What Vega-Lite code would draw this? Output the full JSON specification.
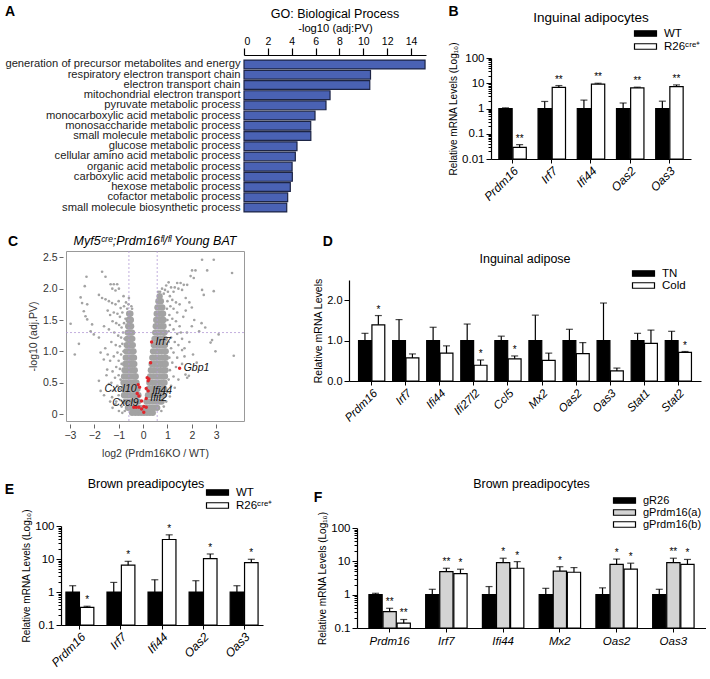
{
  "$schema": "https://vega.github.io/schema/vega-lite/v6.json",
  "padding": {"left": 3, "top": 3, "right": 0, "bottom": 0},
  "background": "white",
  "config": {
    "font": "Liberation Sans",
    "view": {"stroke": null},
    "axis": {"domainColor": "#000", "tickColor": "#000", "labelColor": "#000", "titleColor": "#000", "titleFontWeight": "normal", "grid": false, "labelFont": "Liberation Sans", "titleFont": "Liberation Sans", "labelOverlap": false},
    "title": {"fontWeight": "normal", "font": "Liberation Sans", "color": "#000"},
    "legend": {"labelFont": "Liberation Sans", "labelColor": "#000"}
  },
  "columns": 1,
  "spacing": 16,
  "resolve": {"scale": {"color": "independent", "xOffset": "independent", "x": "independent", "y": "independent"}, "legend": {"color": "independent"}},
  "concat": [
    {
      "columns": 4,
      "spacing": 0,
      "resolve": {"scale": {"color": "independent", "xOffset": "independent", "x": "independent", "y": "independent"}, "legend": {"color": "independent"}},
      "concat": [
        {"width": 1, "height": 1, "view": {"fill": "#ffffff", "stroke": null}, "data": {"values": []}, "mark": "point"},
        {
          "spacing": 0,
          "vconcat": [
            {"width": 1, "height": 1, "view": {"fill": "#ffffff", "stroke": null}, "data": {"values": []}, "mark": "point"},
            {
              "title": {"text": "A", "anchor": "start", "frame": "bounds", "fontSize": 14, "fontWeight": "bold", "offset": -11},
              "vconcat": [
                {
                  "width": 182,
                  "height": 162,
                  "title": {"text": "GO: Biological Process", "fontSize": 12.5, "offset": 2, "frame": "group"},
                  "data": {"values": [
                    {"term": "generation of precursor metabolites and energy", "value": 15.17},
                    {"term": "respiratory electron transport chain", "value": 10.6},
                    {"term": "electron transport chain", "value": 10.54},
                    {"term": "mitochondrial electron transport", "value": 7.21},
                    {"term": "pyruvate metabolic process", "value": 6.87},
                    {"term": "monocarboxylic acid metabolic process", "value": 5.95},
                    {"term": "monosaccharide metabolic process", "value": 5.59},
                    {"term": "small molecule metabolic process", "value": 5.6},
                    {"term": "glucose metabolic process", "value": 4.44},
                    {"term": "cellular amino acid metabolic process", "value": 4.3},
                    {"term": "organic acid metabolic process", "value": 4.03},
                    {"term": "carboxylic acid metabolic process", "value": 4.05},
                    {"term": "hexose metabolic process", "value": 3.88},
                    {"term": "cofactor metabolic process", "value": 3.66},
                    {"term": "small molecule biosynthetic process", "value": 3.58}
                  ]},
                  "mark": {"type": "bar", "fill": "#4a62b4", "stroke": "#1d2545", "strokeWidth": 1.2},
                  "encoding": {
                    "y": {"field": "term", "type": "nominal", "sort": null, "scale": {"paddingInner": 0.14, "paddingOuter": 0.5}, "axis": {"title": null, "ticks": false, "domain": false, "labelFontSize": 11.2, "labelPadding": 4, "labelLimit": 400, "labelColor": "#222"}},
                    "x": {"field": "value", "type": "quantitative", "scale": {"domain": [0, 15.25], "nice": false}, "axis": {"orient": "top", "title": "-log10 (adj:PV)", "titleFontSize": 11.2, "titlePadding": 3, "values": [0, 2, 4, 6, 8, 10, 12, 14], "labelFontSize": 10.5, "tickSize": 7, "domainWidth": 1.2, "tickWidth": 1.2, "labelPadding": 2}}
                  }
                }
              ]
            }
          ]
        },
        {"width": 22, "height": 1, "view": {"fill": "#ffffff", "stroke": null}, "data": {"values": []}, "mark": "point"},
        {
          "spacing": 0,
          "resolve": {"scale": {"color": "independent", "xOffset": "independent"}, "legend": {"color": "independent"}},
          "vconcat": [
            {"width": 1, "height": 1, "view": {"fill": "#ffffff", "stroke": null}, "data": {"values": []}, "mark": "point"},
            {
              "title": {"text": "B", "anchor": "start", "frame": "bounds", "fontSize": 14, "fontWeight": "bold", "offset": -8},
              "resolve": {"scale": {"color": "independent", "xOffset": "independent"}, "legend": {"color": "independent"}},
              "vconcat": [
                {
                  "width": 200,
                  "height": 101,
                  "title": {"text": "Inguinal adipocytes", "fontSize": 13.5, "offset": 3},
                  "data": {"values": [
                    {"gene": "Prdm16", "grp": "WT", "mean": 1, "upper": 1.06, "star": ""},
                    {"gene": "Prdm16", "grp": "R26ᶜʳᵉ⁺", "mean": 0.029, "upper": 0.037, "star": "**"},
                    {"gene": "Irf7", "grp": "WT", "mean": 1, "upper": 1.9, "star": ""},
                    {"gene": "Irf7", "grp": "R26ᶜʳᵉ⁺", "mean": 6.9, "upper": 8.1, "star": "**"},
                    {"gene": "Ifi44", "grp": "WT", "mean": 1, "upper": 2.15, "star": ""},
                    {"gene": "Ifi44", "grp": "R26ᶜʳᵉ⁺", "mean": 9.3, "upper": 10, "star": "**"},
                    {"gene": "Oas2", "grp": "WT", "mean": 1, "upper": 1.65, "star": ""},
                    {"gene": "Oas2", "grp": "R26ᶜʳᵉ⁺", "mean": 6.6, "upper": 7.0, "star": "**"},
                    {"gene": "Oas3", "grp": "WT", "mean": 1, "upper": 1.95, "star": ""},
                    {"gene": "Oas3", "grp": "R26ᶜʳᵉ⁺", "mean": 7.3, "upper": 8.6, "star": "**"}
                  ]},
                  "encoding": {
                    "x": {"field": "gene", "type": "nominal", "sort": null, "scale": {"paddingInner": 0.3, "paddingOuter": 0.2}, "axis": {"title": null, "labelAngle": -45, "labelAlign": "right", "labelBaseline": "top", "labelFontStyle": "italic", "labelFontSize": 12, "tickSize": 4, "labelPadding": 2, "domainWidth": 1.2}},
                    "xOffset": {"field": "grp", "type": "nominal", "sort": null, "scale": {"paddingInner": 0.06}}
                  },
                  "layer": [
                    {
                      "mark": {"type": "bar", "stroke": "#000", "strokeWidth": 1.2},
                      "encoding": {
                        "y": {"field": "mean", "type": "quantitative", "scale": {"type": "log", "domain": [0.01, 100], "nice": false}, "axis": {"title": "Relative mRNA Levels (Log₁₀)", "titleFontSize": 10, "titlePadding": 3, "values": [0.01,0.02,0.03,0.04,0.05,0.06,0.07,0.08,0.09,0.1,0.2,0.3,0.4,0.5,0.6,0.7,0.8,0.9,1,2,3,4,5,6,7,8,9,10,20,30,40,50,60,70,80,90,100], "labelExpr": "abs(log(datum.value)/LN10 - round(log(datum.value)/LN10)) < 0.01 ? format(datum.value, '~g') : ''", "labelFontSize": 11.5, "tickSize": {"condition": {"test": "abs(log(datum.value)/LN10 - round(log(datum.value)/LN10)) < 0.01", "value": 5}, "value": 3}, "domainWidth": 1.2}},
                        "y2": {"datum": 0.01},
                        "color": {"field": "grp", "type": "nominal", "sort": null, "scale": {"range": ["#000000", "#ffffff"]}, "legend": {"title": null, "orient": "none", "legendX": 148, "legendY": -31, "symbolType": "M-2,-0.5H2V0.5H-2Z", "symbolSize": 121, "symbolStrokeColor": "#000", "symbolStrokeWidth": 1.2, "labelFontSize": 11.5, "rowPadding": 1, "labelOffset": 12}}
                      }
                    },
                    {"mark": {"type": "rule", "color": "#000", "strokeWidth": 1.2}, "encoding": {"y": {"field": "mean", "type": "quantitative"}, "y2": {"field": "upper"}}},
                    {"mark": {"type": "tick", "color": "#000", "thickness": 1.2, "size": 7}, "encoding": {"y": {"field": "upper", "type": "quantitative"}}},
                    {"mark": {"type": "text", "dy": -6, "fontSize": 10, "baseline": "middle", "color": "#000"}, "encoding": {"y": {"field": "upper", "type": "quantitative"}, "text": {"field": "star"}}}
                  ]
                }
              ]
            }
          ]
        }
      ]
    },
    {
      "columns": 4,
      "spacing": 0,
      "resolve": {"scale": {"color": "independent", "xOffset": "independent", "x": "independent", "y": "independent"}, "legend": {"color": "independent"}},
      "concat": [
        {"width": 4, "height": 1, "view": {"fill": "#ffffff", "stroke": null}, "data": {"values": []}, "mark": "point"},
        {
          "spacing": 0,
          "vconcat": [
            {"width": 1, "height": 1, "view": {"fill": "#ffffff", "stroke": null}, "data": {"values": []}, "mark": "point"},
            {
              "title": {"text": "C", "anchor": "start", "frame": "bounds", "fontSize": 14, "fontWeight": "bold", "offset": -14, "dx": -20},
              "vconcat": [
                {
                  "width": 178,
                  "height": 170,
                  "view": {"stroke": "#999999", "strokeWidth": 1},
                  "title": {"text": "Myf5ᶜʳᵉ;Prdm16ᶠˡ/ᶠˡ Young BAT", "fontSize": 12.5, "fontStyle": "italic", "offset": 3, "frame": "group"},
                  "layer": [
                    {
                      "data": {"values": "x,y\n-0.45,0.02\n-0.32,0.02\n-0.2,0.02\n-0.08,0.02\n0.04,0.02\n0.16,0.02\n0.28,0.02\n0.4,0.02\n-0.62,0.1\n-0.49,0.1\n-0.36,0.1\n-0.23,0.1\n-0.12,0.1\n-0.72,0.2\n-0.59,0.2\n-0.46,0.2\n-0.33,0.2\n-0.2,0.2\n-0.78,0.3\n-0.65,0.3\n-0.52,0.3\n-0.39,0.3\n-0.26,0.3\n-0.19,0.3\n-0.8,0.4\n-0.67,0.4\n-0.54,0.4\n-0.42,0.4\n-0.3,0.4\n-0.23,0.4\n-0.8,0.5\n-0.67,0.5\n-0.55,0.5\n-0.43,0.5\n-0.32,0.5\n-0.27,0.5\n-0.78,0.6\n-0.66,0.6\n-0.55,0.6\n-0.44,0.6\n-0.33,0.6\n-0.3,0.6\n-0.76,0.7\n-0.65,0.7\n-0.54,0.7\n-0.44,0.7\n-0.34,0.7\n-0.73,0.8\n-0.63,0.8\n-0.53,0.8\n-0.44,0.8\n-0.36,0.8\n-0.71,0.9\n-0.61,0.9\n-0.52,0.9\n-0.44,0.9\n-0.37,0.9\n-0.69,1.0\n-0.6,1.0\n-0.51,1.0\n-0.43,1.0\n-0.39,1.0\n-0.67,1.1\n-0.58,1.1\n-0.5,1.1\n-0.42,1.1\n-0.65,1.2\n-0.57,1.2\n-0.5,1.2\n-0.44,1.2\n-0.63,1.3\n-0.56,1.3\n-0.49,1.3\n-0.45,1.3\n-0.61,1.4\n-0.55,1.4\n-0.49,1.4\n-0.59,1.5\n-0.53,1.5\n-0.5,1.5\n-0.57,1.6\n-0.52,1.6\n0.08,0.1\n0.2,0.1\n0.33,0.1\n0.46,0.1\n0.58,0.1\n0.14,0.2\n0.27,0.2\n0.4,0.2\n0.53,0.2\n0.66,0.2\n0.76,0.2\n0.2,0.3\n0.33,0.3\n0.46,0.3\n0.59,0.3\n0.72,0.3\n0.84,0.3\n0.23,0.4\n0.36,0.4\n0.49,0.4\n0.62,0.4\n0.75,0.4\n0.87,0.4\n0.26,0.5\n0.39,0.5\n0.52,0.5\n0.65,0.5\n0.78,0.5\n0.88,0.5\n0.29,0.6\n0.42,0.6\n0.55,0.6\n0.68,0.6\n0.8,0.6\n0.9,0.6\n0.32,0.7\n0.45,0.7\n0.58,0.7\n0.71,0.7\n0.83,0.7\n0.92,0.7\n0.35,0.8\n0.48,0.8\n0.6,0.8\n0.73,0.8\n0.85,0.8\n0.93,0.8\n0.38,0.9\n0.5,0.9\n0.62,0.9\n0.75,0.9\n0.87,0.9\n0.93,0.9\n0.41,1.0\n0.53,1.0\n0.65,1.0\n0.77,1.0\n0.88,1.0\n0.93,1.0\n0.44,1.1\n0.56,1.1\n0.68,1.1\n0.8,1.1\n0.9,1.1\n0.47,1.2\n0.59,1.2\n0.71,1.2\n0.82,1.2\n0.89,1.2\n0.5,1.3\n0.61,1.3\n0.72,1.3\n0.83,1.3\n0.88,1.3\n0.52,1.4\n0.63,1.4\n0.74,1.4\n0.84,1.4\n0.54,1.5\n0.65,1.5\n0.76,1.5\n0.84,1.5\n0.56,1.6\n0.67,1.6\n0.78,1.6\n0.82,1.6\n0.59,1.7\n0.69,1.7\n0.79,1.7\n0.63,1.8\n0.73,1.8\n0.68,1.88", "format": {"type": "csv", "parse": {"x": "number", "y": "number"}}},
                      "mark": {"type": "circle", "size": 40, "color": "#a3a3a3", "opacity": 1},
                      "encoding": {
                        "x": {"field": "x", "type": "quantitative", "scale": {"domain": [-3.16, 4.14], "nice": false, "zero": false}, "axis": {"title": "log2 (Prdm16KO / WT)", "titleFontSize": 10.5, "titlePadding": 8, "titleColor": "#333", "values": [-3, -2, -1, 0, 1, 2, 3], "labelOverlap": false, "labelFontSize": 10.5, "labelColor": "#333", "offset": 3, "domain": false, "tickColor": "#666", "tickSize": 4}},
                        "y": {"field": "y", "type": "quantitative", "scale": {"domain": [-0.11, 2.6], "nice": false, "zero": false}, "axis": {"title": "-log10 (adj.PV)", "titleFontSize": 10.5, "titlePadding": 4, "titleColor": "#333", "values": [0, 0.5, 1, 1.5, 2, 2.5], "labelOverlap": false, "labelExpr": "datum.value == 0 ? '0' : format(datum.value, '.1f')", "labelFontSize": 10.5, "labelColor": "#333", "offset": 3, "domain": false, "tickColor": "#666", "tickSize": 4}}
                      }
                    },
                    {
                      "data": {"values": "x,y\n-1.68,2.27\n-2.32,2.19\n-1.54,2.19\n-2.39,2.04\n-1.33,2.07\n-1.2,2.07\n-1.06,2.07\n-1.26,2.0\n-1.13,1.97\n-0.99,2.0\n-2.56,1.86\n-2.5,1.77\n-2.29,1.75\n-1.81,1.9\n-1.68,1.85\n-1.54,1.83\n-1.4,1.8\n-1.27,1.77\n-1.13,1.75\n-0.92,1.69\n-2.43,1.64\n-2.36,1.56\n-2.29,1.51\n-2.97,1.44\n-2.09,1.43\n-2.63,1.12\n-2.8,0.95\n-2.15,1.32\n-2.02,1.27\n-1.81,1.22\n-1.74,0.98\n-1.61,0.87\n-1.47,0.71\n-1.81,0.53\n-1.74,0.37\n-1.4,0.48\n-1.27,0.27\n-1.13,0.16\n-0.99,0.05\n-1.45,1.65\n-1.35,1.58\n-1.2,1.62\n-1.05,1.6\n-0.95,1.55\n-0.85,1.62\n-0.78,1.72\n-0.7,1.78\n-0.65,1.68\n-1.25,1.48\n-1.1,1.45\n-0.98,1.42\n-0.88,1.38\n-0.78,1.45\n-0.72,1.52\n-1.6,1.4\n-1.4,1.35\n-1.18,1.3\n-1.02,1.25\n-0.9,1.22\n-0.82,1.3\n-0.76,1.2\n-1.3,1.15\n-1.12,1.1\n-0.95,1.08\n-0.85,1.12\n-0.8,1.0\n-0.9,0.95\n-1.05,0.98\n-1.2,0.92\n-1.35,0.85\n-1.0,0.85\n-0.88,0.8\n-0.95,0.72\n-1.1,0.75\n-1.25,0.68\n-1.0,0.62\n-0.92,0.55\n-1.15,0.58\n-1.3,0.5\n-1.05,0.45\n-0.95,0.4\n-1.2,0.38\n-1.0,0.3\n-0.92,0.22\n-1.1,0.2\n-0.88,0.12\n-0.75,0.05\n-1.55,1.05\n-1.45,0.95\n-1.5,0.62\n-1.6,0.3\n-1.35,0.2\n-1.25,0.1\n-0.85,0.02\n-0.6,1.75\n-0.58,1.85\n-0.8,1.88\n-1.0,1.8\n-0.48,1.72\n-0.45,1.68\n2.42,2.46\n2.9,2.46\n2.01,2.29\n2.15,2.29\n2.63,2.29\n3.65,2.25\n1.95,2.2\n2.08,2.17\n1.4,2.09\n1.54,2.09\n1.67,2.06\n1.81,2.06\n1.3,2.02\n1.45,2.0\n1.6,1.98\n2.49,1.9\n2.9,1.96\n2.42,1.98\n1.75,1.85\n1.9,1.78\n2.0,1.7\n2.1,1.5\n2.4,1.45\n2.55,1.38\n2.3,1.32\n2.77,1.14\n2.97,1.0\n3.72,0.93\n1.74,0.63\n1.81,0.58\n2.2,0.82\n2.05,0.95\n1.6,1.2\n1.7,1.05\n3.1,1.27\n2.83,1.18\n1.88,0.61\n0.95,2.05\n1.05,2.1\n1.15,2.02\n1.25,1.95\n1.02,1.95\n0.9,1.98\n0.85,1.92\n1.1,1.88\n1.2,1.82\n1.35,1.78\n1.5,1.75\n1.0,1.8\n1.12,1.72\n1.25,1.68\n1.4,1.62\n0.98,1.68\n1.08,1.58\n1.2,1.52\n1.35,1.48\n1.5,1.4\n1.0,1.5\n1.1,1.42\n1.25,1.35\n1.4,1.28\n1.55,1.3\n1.05,1.32\n1.15,1.22\n1.3,1.15\n1.45,1.1\n1.6,1.02\n1.05,1.15\n1.15,1.05\n1.25,0.98\n1.4,0.9\n1.08,0.9\n1.2,0.82\n1.35,0.75\n1.1,0.7\n1.25,0.6\n1.05,0.55\n1.15,0.45\n1.0,0.35\n1.1,0.28\n0.95,0.2\n0.85,0.12\n0.75,0.05\n1.3,0.42\n1.45,0.55\n1.6,0.8\n1.7,0.92\n1.8,1.3\n1.9,1.15\n2.0,1.4\n1.65,1.55\n1.75,1.65\n0.78,2.0\n0.7,1.95\n0.62,1.95", "format": {"type": "csv", "parse": {"x": "number", "y": "number"}}},
                      "mark": {"type": "circle", "size": 7, "color": "#a3a3a3", "opacity": 1},
                      "encoding": {
                        "x": {"field": "x", "type": "quantitative", "axis": {"title": "log2 (Prdm16KO / WT)", "titleFontSize": 10.5, "titlePadding": 8, "titleColor": "#333", "values": [-3, -2, -1, 0, 1, 2, 3], "labelOverlap": false, "labelFontSize": 10.5, "labelColor": "#333", "offset": 3, "domain": false, "tickColor": "#666", "tickSize": 4}},
                        "y": {"field": "y", "type": "quantitative", "axis": {"title": "-log10 (adj.PV)", "titleFontSize": 10.5, "titlePadding": 4, "titleColor": "#333", "values": [0, 0.5, 1, 1.5, 2, 2.5], "labelOverlap": false, "labelExpr": "datum.value == 0 ? '0' : format(datum.value, '.1f')", "labelFontSize": 10.5, "labelColor": "#333", "offset": 3, "domain": false, "tickColor": "#666", "tickSize": 4}}
                      }
                    },
                    {
                      "data": {"values": [{"v": -0.58}, {"v": 0.58}]},
                      "mark": {"type": "rule", "color": "#b49ad6", "strokeDash": [2, 2], "strokeWidth": 0.8},
                      "encoding": {"x": {"field": "v", "type": "quantitative", "axis": {"title": "log2 (Prdm16KO / WT)", "titleFontSize": 10.5, "titlePadding": 8, "titleColor": "#333", "values": [-3, -2, -1, 0, 1, 2, 3], "labelOverlap": false, "labelFontSize": 10.5, "labelColor": "#333", "offset": 3, "domain": false, "tickColor": "#666", "tickSize": 4}}}
                    },
                    {
                      "data": {"values": [{"h": 1.3}]},
                      "mark": {"type": "rule", "color": "#b49ad6", "strokeDash": [2, 2], "strokeWidth": 0.8},
                      "encoding": {"y": {"field": "h", "type": "quantitative", "axis": {"title": "-log10 (adj.PV)", "titleFontSize": 10.5, "titlePadding": 4, "titleColor": "#333", "values": [0, 0.5, 1, 1.5, 2, 2.5], "labelOverlap": false, "labelExpr": "datum.value == 0 ? '0' : format(datum.value, '.1f')", "labelFontSize": 10.5, "labelColor": "#333", "offset": 3, "domain": false, "tickColor": "#666", "tickSize": 4}}}
                    },
                    {
                      "data": {"values": "x,y\n0.35,1.15\n0.31,0.82\n0.17,0.58\n0.24,0.56\n0.21,0.53\n1.5,0.73\n-0.2,0.47\n-0.14,0.43\n0.13,0.41\n0.21,0.37\n-0.24,0.33\n-0.17,0.29\n-0.06,0.21\n0.13,0.25\n-0.38,0.11\n-0.28,0.11\n-0.17,0.11\n0.03,0.12\n0.13,0.11\n0.03,0.03\n-0.06,0.08", "format": {"type": "csv", "parse": {"x": "number", "y": "number"}}},
                      "mark": {"type": "circle", "size": 12, "color": "#e0262c", "opacity": 1},
                      "encoding": {
                        "x": {"field": "x", "type": "quantitative", "axis": {"title": "log2 (Prdm16KO / WT)", "titleFontSize": 10.5, "titlePadding": 8, "titleColor": "#333", "values": [-3, -2, -1, 0, 1, 2, 3], "labelOverlap": false, "labelFontSize": 10.5, "labelColor": "#333", "offset": 3, "domain": false, "tickColor": "#666", "tickSize": 4}},
                        "y": {"field": "y", "type": "quantitative", "axis": {"title": "-log10 (adj.PV)", "titleFontSize": 10.5, "titlePadding": 4, "titleColor": "#333", "values": [0, 0.5, 1, 1.5, 2, 2.5], "labelOverlap": false, "labelExpr": "datum.value == 0 ? '0' : format(datum.value, '.1f')", "labelFontSize": 10.5, "labelColor": "#333", "offset": 3, "domain": false, "tickColor": "#666", "tickSize": 4}}
                      }
                    },
                    {
                      "data": {"values": [
                        {"x": 0.35, "y": 1.15, "label": "Irf7"},
                        {"x": 1.5, "y": 0.73, "label": "Gbp1"},
                        {"x": 0.21, "y": 0.37, "label": "Ifi44"},
                        {"x": 0.13, "y": 0.25, "label": "Ifit2"}
                      ]},
                      "mark": {"type": "text", "fontStyle": "italic", "fontSize": 10.5, "align": "left", "dx": 4, "baseline": "middle", "color": "#111"},
                      "encoding": {
                        "x": {"field": "x", "type": "quantitative", "axis": {"title": "log2 (Prdm16KO / WT)", "titleFontSize": 10.5, "titlePadding": 8, "titleColor": "#333", "values": [-3, -2, -1, 0, 1, 2, 3], "labelOverlap": false, "labelFontSize": 10.5, "labelColor": "#333", "offset": 3, "domain": false, "tickColor": "#666", "tickSize": 4}},
                        "y": {"field": "y", "type": "quantitative", "axis": {"title": "-log10 (adj.PV)", "titleFontSize": 10.5, "titlePadding": 4, "titleColor": "#333", "values": [0, 0.5, 1, 1.5, 2, 2.5], "labelOverlap": false, "labelExpr": "datum.value == 0 ? '0' : format(datum.value, '.1f')", "labelFontSize": 10.5, "labelColor": "#333", "offset": 3, "domain": false, "tickColor": "#666", "tickSize": 4}},
                        "text": {"field": "label"}
                      }
                    },
                    {
                      "data": {"values": [
                        {"x": -0.14, "y": 0.43, "label": "Cxcl10"},
                        {"x": -0.06, "y": 0.21, "label": "Cxcl9"}
                      ]},
                      "mark": {"type": "text", "fontStyle": "italic", "fontSize": 10.5, "align": "right", "dx": -3, "dy": 2, "baseline": "middle", "color": "#111"},
                      "encoding": {
                        "x": {"field": "x", "type": "quantitative", "axis": {"title": "log2 (Prdm16KO / WT)", "titleFontSize": 10.5, "titlePadding": 8, "titleColor": "#333", "values": [-3, -2, -1, 0, 1, 2, 3], "labelOverlap": false, "labelFontSize": 10.5, "labelColor": "#333", "offset": 3, "domain": false, "tickColor": "#666", "tickSize": 4}},
                        "y": {"field": "y", "type": "quantitative", "axis": {"title": "-log10 (adj.PV)", "titleFontSize": 10.5, "titlePadding": 4, "titleColor": "#333", "values": [0, 0.5, 1, 1.5, 2, 2.5], "labelOverlap": false, "labelExpr": "datum.value == 0 ? '0' : format(datum.value, '.1f')", "labelFontSize": 10.5, "labelColor": "#333", "offset": 3, "domain": false, "tickColor": "#666", "tickSize": 4}},
                        "text": {"field": "label"}
                      }
                    }
                  ]
                }
              ]
            }
          ]
        },
        {"width": 68, "height": 1, "view": {"fill": "#ffffff", "stroke": null}, "data": {"values": []}, "mark": "point"},
        {
          "spacing": 0,
          "resolve": {"scale": {"color": "independent", "xOffset": "independent"}, "legend": {"color": "independent"}},
          "vconcat": [
            {"width": 1, "height": 1, "view": {"fill": "#ffffff", "stroke": null}, "data": {"values": []}, "mark": "point"},
            {
              "title": {"text": "D", "anchor": "start", "frame": "bounds", "fontSize": 14, "fontWeight": "bold", "offset": 4, "dx": 9},
              "resolve": {"scale": {"color": "independent", "xOffset": "independent"}, "legend": {"color": "independent"}},
              "vconcat": [
                {
                  "width": 352,
                  "height": 101,
                  "title": {"text": "Inguinal adipose", "fontSize": 12.5, "offset": 2},
                  "data": {"values": [
                    {"gene": "Prdm16", "grp": "TN", "mean": 1, "upper": 1.18, "star": ""},
                    {"gene": "Prdm16", "grp": "Cold", "mean": 1.39, "upper": 1.62, "star": "*"},
                    {"gene": "Irf7", "grp": "TN", "mean": 1, "upper": 1.52, "star": ""},
                    {"gene": "Irf7", "grp": "Cold", "mean": 0.57, "upper": 0.67, "star": ""},
                    {"gene": "Ifi44", "grp": "TN", "mean": 1, "upper": 1.33, "star": ""},
                    {"gene": "Ifi44", "grp": "Cold", "mean": 0.69, "upper": 0.87, "star": ""},
                    {"gene": "Ifi27l2", "grp": "TN", "mean": 1, "upper": 1.41, "star": ""},
                    {"gene": "Ifi27l2", "grp": "Cold", "mean": 0.39, "upper": 0.52, "star": "*"},
                    {"gene": "Ccl5", "grp": "TN", "mean": 1, "upper": 1.11, "star": ""},
                    {"gene": "Ccl5", "grp": "Cold", "mean": 0.55, "upper": 0.62, "star": "*"},
                    {"gene": "Mx2", "grp": "TN", "mean": 1, "upper": 1.63, "star": ""},
                    {"gene": "Mx2", "grp": "Cold", "mean": 0.51, "upper": 0.69, "star": ""},
                    {"gene": "Oas2", "grp": "TN", "mean": 1, "upper": 1.28, "star": ""},
                    {"gene": "Oas2", "grp": "Cold", "mean": 0.68, "upper": 0.95, "star": ""},
                    {"gene": "Oas3", "grp": "TN", "mean": 1, "upper": 1.93, "star": ""},
                    {"gene": "Oas3", "grp": "Cold", "mean": 0.25, "upper": 0.32, "star": ""},
                    {"gene": "Stat1", "grp": "TN", "mean": 1, "upper": 1.18, "star": ""},
                    {"gene": "Stat1", "grp": "Cold", "mean": 0.93, "upper": 1.26, "star": ""},
                    {"gene": "Stat2", "grp": "TN", "mean": 1, "upper": 1.23, "star": ""},
                    {"gene": "Stat2", "grp": "Cold", "mean": 0.71, "upper": 0.73, "star": "*"}
                  ]},
                  "encoding": {
                    "x": {"field": "gene", "type": "nominal", "sort": null, "scale": {"paddingInner": 0.23, "paddingOuter": 0.28}, "axis": {"title": null, "labelAngle": -45, "labelAlign": "right", "labelBaseline": "top", "labelFontStyle": "italic", "labelFontSize": 11.5, "tickSize": 4, "labelPadding": 2, "domainWidth": 1.2}},
                    "xOffset": {"field": "grp", "type": "nominal", "sort": null, "scale": {"paddingInner": 0.04}}
                  },
                  "layer": [
                    {
                      "mark": {"type": "bar", "stroke": "#000", "strokeWidth": 1.2},
                      "encoding": {
                        "y": {"field": "mean", "type": "quantitative", "scale": {"domain": [0, 2.5], "nice": false}, "axis": {"title": "Relative mRNA Levels", "titleFontSize": 10.5, "titlePadding": 3, "values": [0, 0.5, 1, 1.5, 2, 2.5], "format": ".1f", "labelFontSize": 11, "tickSize": 5, "domainWidth": 1.2}},
                        "color": {"field": "grp", "type": "nominal", "sort": null, "scale": {"range": ["#000000", "#ffffff"]}, "legend": {"title": null, "orient": "none", "legendX": 288, "legendY": -13, "symbolType": "M-2,-0.5H2V0.5H-2Z", "symbolSize": 121, "symbolStrokeColor": "#000", "symbolStrokeWidth": 1.2, "labelFontSize": 11.5, "rowPadding": 0, "labelOffset": 12}}
                      }
                    },
                    {"mark": {"type": "rule", "color": "#000", "strokeWidth": 1.2}, "encoding": {"y": {"field": "mean", "type": "quantitative"}, "y2": {"field": "upper"}}},
                    {"mark": {"type": "tick", "color": "#000", "thickness": 1.2, "size": 7}, "encoding": {"y": {"field": "upper", "type": "quantitative"}}},
                    {"mark": {"type": "text", "dy": -6, "fontSize": 10, "baseline": "middle", "color": "#000"}, "encoding": {"y": {"field": "upper", "type": "quantitative"}, "text": {"field": "star"}}}
                  ]
                }
              ]
            }
          ]
        }
      ]
    },
    {
      "columns": 4,
      "spacing": 0,
      "resolve": {"scale": {"color": "independent", "xOffset": "independent", "x": "independent", "y": "independent"}, "legend": {"color": "independent"}},
      "concat": [
        {"width": 1, "height": 1, "view": {"fill": "#ffffff", "stroke": null}, "data": {"values": []}, "mark": "point"},
        {
          "spacing": 0,
          "resolve": {"scale": {"color": "independent", "xOffset": "independent"}, "legend": {"color": "independent"}},
          "vconcat": [
            {"width": 1, "height": 1, "view": {"fill": "#ffffff", "stroke": null}, "data": {"values": []}, "mark": "point"},
            {
              "title": {"text": "E", "anchor": "start", "frame": "bounds", "fontSize": 14, "fontWeight": "bold", "offset": -19, "dx": -17},
              "resolve": {"scale": {"color": "independent", "xOffset": "independent"}, "legend": {"color": "independent"}},
              "vconcat": [
                {
                  "width": 202,
                  "height": 99,
                  "title": {"text": "Brown preadipocytes", "fontSize": 12.5, "offset": -4, "dx": -16},
                  "data": {"values": [
                    {"gene": "Prdm16", "grp": "WT", "mean": 1, "upper": 1.55, "star": ""},
                    {"gene": "Prdm16", "grp": "R26ᶜʳᵉ⁺", "mean": 0.34, "upper": 0.37, "star": "*"},
                    {"gene": "Irf7", "grp": "WT", "mean": 1, "upper": 1.95, "star": ""},
                    {"gene": "Irf7", "grp": "R26ᶜʳᵉ⁺", "mean": 6.5, "upper": 8.5, "star": "*"},
                    {"gene": "Ifi44", "grp": "WT", "mean": 1, "upper": 2.35, "star": ""},
                    {"gene": "Ifi44", "grp": "R26ᶜʳᵉ⁺", "mean": 39, "upper": 54, "star": "*"},
                    {"gene": "Oas2", "grp": "WT", "mean": 1, "upper": 2.2, "star": ""},
                    {"gene": "Oas2", "grp": "R26ᶜʳᵉ⁺", "mean": 10.2, "upper": 14.2, "star": "*"},
                    {"gene": "Oas3", "grp": "WT", "mean": 1, "upper": 1.55, "star": ""},
                    {"gene": "Oas3", "grp": "R26ᶜʳᵉ⁺", "mean": 7.8, "upper": 9.8, "star": "*"}
                  ]},
                  "encoding": {
                    "x": {"field": "gene", "type": "nominal", "sort": null, "scale": {"paddingInner": 0.32, "paddingOuter": 0.12}, "axis": {"title": null, "labelAngle": -45, "labelAlign": "right", "labelBaseline": "top", "labelFontStyle": "italic", "labelFontSize": 12, "tickSize": 4, "labelPadding": 2, "domainWidth": 1.2}},
                    "xOffset": {"field": "grp", "type": "nominal", "sort": null, "scale": {"paddingInner": 0.06}}
                  },
                  "layer": [
                    {
                      "mark": {"type": "bar", "stroke": "#000", "strokeWidth": 1.2},
                      "encoding": {
                        "y": {"field": "mean", "type": "quantitative", "scale": {"type": "log", "domain": [0.1, 100], "nice": false}, "axis": {"title": "Relative mRNA Levels (Log₁₀)", "titleFontSize": 10, "titlePadding": 3, "values": [0.1,0.2,0.3,0.4,0.5,0.6,0.7,0.8,0.9,1,2,3,4,5,6,7,8,9,10,20,30,40,50,60,70,80,90,100], "labelExpr": "abs(log(datum.value)/LN10 - round(log(datum.value)/LN10)) < 0.01 ? format(datum.value, '~g') : ''", "labelFontSize": 11.5, "tickSize": {"condition": {"test": "abs(log(datum.value)/LN10 - round(log(datum.value)/LN10)) < 0.01", "value": 5}, "value": 3}, "domainWidth": 1.2}},
                        "y2": {"datum": 0.1},
                        "color": {"field": "grp", "type": "nominal", "sort": null, "scale": {"range": ["#000000", "#ffffff"]}, "legend": {"title": null, "orient": "none", "legendX": 150, "legendY": -40, "symbolType": "M-2,-0.5H2V0.5H-2Z", "symbolSize": 121, "symbolStrokeColor": "#000", "symbolStrokeWidth": 1.2, "labelFontSize": 11.5, "rowPadding": 1, "labelOffset": 12}}
                      }
                    },
                    {"mark": {"type": "rule", "color": "#000", "strokeWidth": 1.2}, "encoding": {"y": {"field": "mean", "type": "quantitative"}, "y2": {"field": "upper"}}},
                    {"mark": {"type": "tick", "color": "#000", "thickness": 1.2, "size": 7}, "encoding": {"y": {"field": "upper", "type": "quantitative"}}},
                    {"mark": {"type": "text", "dy": -6, "fontSize": 10, "baseline": "middle", "color": "#000"}, "encoding": {"y": {"field": "upper", "type": "quantitative"}, "text": {"field": "star"}}}
                  ]
                }
              ]
            }
          ]
        },
        {"width": 40, "height": 1, "view": {"fill": "#ffffff", "stroke": null}, "data": {"values": []}, "mark": "point"},
        {
          "spacing": 0,
          "resolve": {"scale": {"color": "independent", "xOffset": "independent"}, "legend": {"color": "independent"}},
          "vconcat": [
            {"width": 1, "height": 1, "view": {"fill": "#ffffff", "stroke": null}, "data": {"values": []}, "mark": "point"},
            {
              "title": {"text": "F", "anchor": "start", "frame": "bounds", "fontSize": 14, "fontWeight": "bold", "offset": -27, "dx": -4},
              "resolve": {"scale": {"color": "independent", "xOffset": "independent"}, "legend": {"color": "independent"}},
              "vconcat": [
                {
                  "width": 349,
                  "height": 100,
                  "title": {"text": "Brown preadipocytes", "fontSize": 12.5, "offset": 4},
                  "data": {"values": [
                    {"gene": "Prdm16", "grp": "gR26", "mean": 1, "upper": 1.1, "star": ""},
                    {"gene": "Prdm16", "grp": "gPrdm16(a)", "mean": 0.31, "upper": 0.39, "star": "**"},
                    {"gene": "Prdm16", "grp": "gPrdm16(b)", "mean": 0.14, "upper": 0.18, "star": "**"},
                    {"gene": "Irf7", "grp": "gR26", "mean": 1, "upper": 1.45, "star": ""},
                    {"gene": "Irf7", "grp": "gPrdm16(a)", "mean": 4.9, "upper": 6.2, "star": "**"},
                    {"gene": "Irf7", "grp": "gPrdm16(b)", "mean": 4.3, "upper": 5.8, "star": "*"},
                    {"gene": "Ifi44", "grp": "gR26", "mean": 1, "upper": 1.75, "star": ""},
                    {"gene": "Ifi44", "grp": "gPrdm16(a)", "mean": 9.1, "upper": 12.4, "star": "*"},
                    {"gene": "Ifi44", "grp": "gPrdm16(b)", "mean": 6.2, "upper": 9.8, "star": "*"},
                    {"gene": "Mx2", "grp": "gR26", "mean": 1, "upper": 1.55, "star": ""},
                    {"gene": "Mx2", "grp": "gPrdm16(a)", "mean": 5.1, "upper": 6.9, "star": "*"},
                    {"gene": "Mx2", "grp": "gPrdm16(b)", "mean": 4.7, "upper": 6.5, "star": ""},
                    {"gene": "Oas2", "grp": "gR26", "mean": 1, "upper": 1.6, "star": ""},
                    {"gene": "Oas2", "grp": "gPrdm16(a)", "mean": 8.1, "upper": 11.7, "star": "*"},
                    {"gene": "Oas2", "grp": "gPrdm16(b)", "mean": 5.8, "upper": 8.8, "star": "*"},
                    {"gene": "Oas3", "grp": "gR26", "mean": 1, "upper": 1.45, "star": ""},
                    {"gene": "Oas3", "grp": "gPrdm16(a)", "mean": 9.1, "upper": 12.4, "star": "**"},
                    {"gene": "Oas3", "grp": "gPrdm16(b)", "mean": 8.1, "upper": 11.4, "star": "*"}
                  ]},
                  "encoding": {
                    "x": {"field": "gene", "type": "nominal", "sort": null, "scale": {"paddingInner": 0.27, "paddingOuter": 0.21}, "axis": {"title": null, "labelAngle": 0, "labelFontStyle": "italic", "labelFontSize": 11.5, "tickSize": 4, "labelPadding": 3, "domainWidth": 1.2}},
                    "xOffset": {"field": "grp", "type": "nominal", "sort": null, "scale": {"paddingInner": 0.06}}
                  },
                  "layer": [
                    {
                      "mark": {"type": "bar", "stroke": "#000", "strokeWidth": 1.2},
                      "encoding": {
                        "y": {"field": "mean", "type": "quantitative", "scale": {"type": "log", "domain": [0.1, 100], "nice": false}, "axis": {"title": "Relative mRNA Levels (Log₁₀)", "titleFontSize": 10, "titlePadding": 3, "values": [0.1,0.2,0.3,0.4,0.5,0.6,0.7,0.8,0.9,1,2,3,4,5,6,7,8,9,10,20,30,40,50,60,70,80,90,100], "labelExpr": "abs(log(datum.value)/LN10 - round(log(datum.value)/LN10)) < 0.01 ? format(datum.value, '~g') : ''", "labelFontSize": 11.5, "tickSize": {"condition": {"test": "abs(log(datum.value)/LN10 - round(log(datum.value)/LN10)) < 0.01", "value": 5}, "value": 3}, "domainWidth": 1.2}},
                        "y2": {"datum": 0.1},
                        "color": {"field": "grp", "type": "nominal", "sort": null, "scale": {"range": ["#000000", "#d4d4d4", "#ffffff"]}, "legend": {"title": null, "orient": "none", "legendX": 261, "legendY": -34, "symbolType": "M-2,-0.5H2V0.5H-2Z", "symbolSize": 121, "symbolStrokeColor": "#000", "symbolStrokeWidth": 1.2, "labelFontSize": 11, "rowPadding": -2, "labelOffset": 12}}
                      }
                    },
                    {"mark": {"type": "rule", "color": "#000", "strokeWidth": 1.2}, "encoding": {"y": {"field": "mean", "type": "quantitative"}, "y2": {"field": "upper"}}},
                    {"mark": {"type": "tick", "color": "#000", "thickness": 1.2, "size": 7}, "encoding": {"y": {"field": "upper", "type": "quantitative"}}},
                    {"mark": {"type": "text", "dy": -6, "fontSize": 10, "baseline": "middle", "color": "#000"}, "encoding": {"y": {"field": "upper", "type": "quantitative"}, "text": {"field": "star"}}}
                  ]
                }
              ]
            }
          ]
        }
      ]
    }
  ]
}
